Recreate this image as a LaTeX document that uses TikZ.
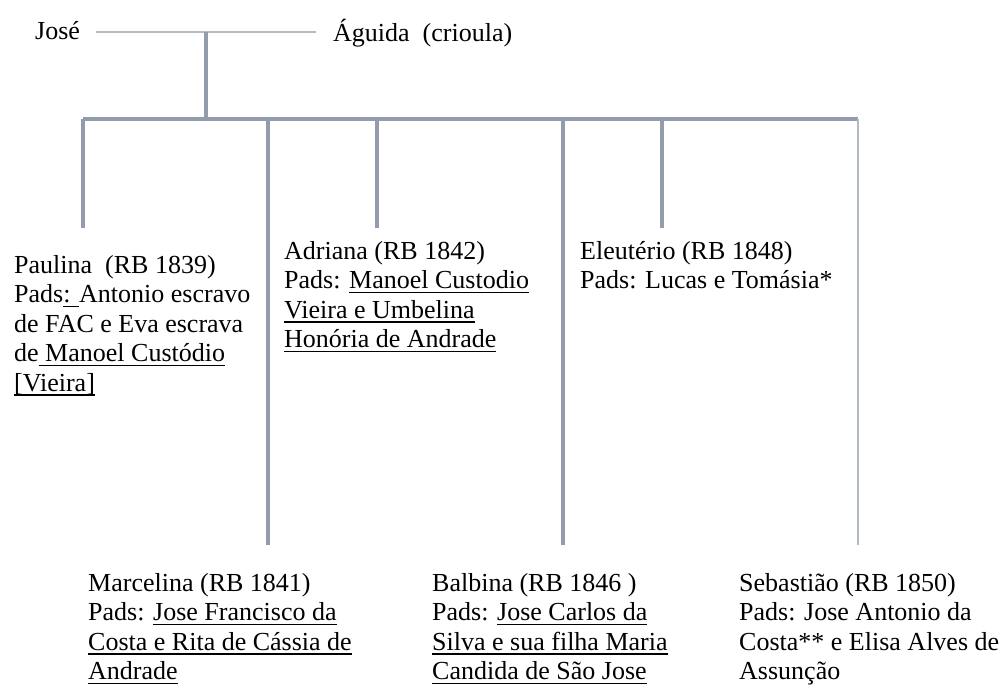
\documentclass[tikz,border=0pt]{standalone}
\usepackage{fontspec}
\setmainfont{Liberation Serif}
% underline at a fixed depth below the baseline
\newcommand\ul[1]{\setbox0\hbox{#1}\rlap{\rule[-4.5pt]{\wd0}{1.5pt}}\box0}
\definecolor{treeline}{RGB}{146,156,172}
\definecolor{thinline}{RGB}{178,186,198}
\begin{document}
\begin{tikzpicture}[x=1pt,y=-1pt,
  person/.style={anchor=north west,inner sep=0pt,align=left,
    font=\fontsize{26}{29.5}\selectfont},
  branch/.style={draw=treeline,line width=3.5pt},
  lightbranch/.style={draw=thinline,line width=2pt}]
\useasboundingbox (0,0) rectangle (1001,689);
\fill[white] (0,0) rectangle (1001,689);

% parents
\node[person] (jose) at (35,19) {\strut José};
\node[person] (aguida) at (333,19) {\strut Águida\ \ (crioula)};
\coordinate (jL) at (96,32);
\coordinate (jR) at (316,32);
\coordinate (jM) at (206,32);
\coordinate (bar) at (206,119);
\draw[lightbranch] (jL) -- (jR);
\draw[branch] (jM) -- (bar);

% sibling bar and drops
\coordinate (barL) at (83,119);
\coordinate (barR) at (858,119);
\draw[branch] (barL) -- (barR);

% children
\node[person] (paulina) at (14,252.5) {\strut Paulina~ (RB 1839)\\
  Pads\ul{: }Antonio escravo\\
  de FAC e Eva escrava\\
  de\ul{ Manoel Custódio}\\
  \ul{[Vieira]}};
\node[person] (adriana) at (284,238.5) {\strut Adriana (RB 1842)\\
  Pads: \ul{Manoel Custodio}\\
  \ul{Vieira e Umbelina}\\
  \ul{Honória de Andrade}};
\node[person] (eleuterio) at (580,238.5) {\strut Eleutério (RB 1848)\\
  Pads: Lucas e Tomásia*};
\node[person] (marcelina) at (88,570.5) {\strut Marcelina (RB 1841)\\
  Pads: \ul{Jose Francisco da}\\
  \ul{Costa e Rita de Cássia de}\\
  \ul{Andrade}};
\node[person] (balbina) at (432,570.5) {\strut Balbina (RB 1846 )\\
  Pads: \ul{Jose Carlos da}\\
  \ul{Silva e sua filha Maria}\\
  \ul{Candida de São Jose}};
\node[person] (sebastiao) at (739,570.5) {\strut Sebastião (RB 1850)\\
  Pads: Jose Antonio da\\
  Costa** e Elisa Alves de\\
  Assunção};

\draw[branch] (barL) -- (barL |- 0,228);
\draw[branch] (268,119) -- (268,545);
\draw[branch] (377,119) -- (377,228);
\draw[branch] (563,119) -- (563,545);
\draw[branch] (662,119) -- (662,228);
\draw[lightbranch] (barR) -- (858,545);
\end{tikzpicture}
\end{document}
